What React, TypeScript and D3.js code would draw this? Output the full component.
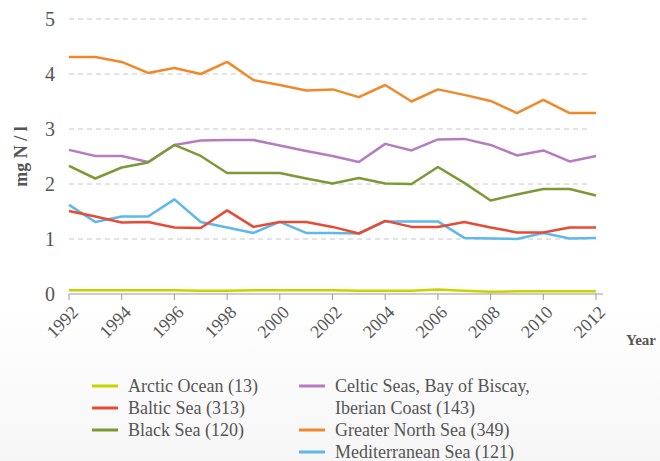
// Nitrogen concentration trends by sea region, 1992-2012
import * as d3 from "d3";
import React from "react";

const FONT = "Liberation Serif";
const textColor = "#555";

const years = d3.range(1992, 2013);
const yTicks = [0, 1, 2, 3, 4, 5];
const xTicks = [1992, 1994, 1996, 1998, 2000, 2002, 2004, 2006, 2008, 2010, 2012];

const arctic = [0.07, 0.07, 0.07, 0.07, 0.07, 0.06, 0.06, 0.07, 0.07, 0.07, 0.07, 0.06, 0.06, 0.06, 0.08, 0.06, 0.04, 0.05, 0.05, 0.05, 0.05];
const baltic = [1.51, 1.41, 1.3, 1.31, 1.21, 1.2, 1.52, 1.22, 1.31, 1.31, 1.22, 1.1, 1.33, 1.22, 1.22, 1.31, 1.21, 1.12, 1.12, 1.21, 1.21];
const black = [2.33, 2.1, 2.3, 2.39, 2.71, 2.51, 2.2, 2.2, 2.2, 2.1, 2.01, 2.11, 2.01, 2.0, 2.31, 2.02, 1.7, 1.81, 1.91, 1.91, 1.79];
const celtic = [2.62, 2.51, 2.51, 2.4, 2.71, 2.79, 2.8, 2.8, 2.7, 2.6, 2.51, 2.4, 2.73, 2.61, 2.81, 2.82, 2.71, 2.52, 2.61, 2.41, 2.51];
const northSea = [4.31, 4.31, 4.22, 4.02, 4.11, 4.0, 4.22, 3.89, 3.8, 3.7, 3.72, 3.58, 3.8, 3.5, 3.72, 3.62, 3.51, 3.29, 3.53, 3.29, 3.29];
const med = [1.62, 1.31, 1.41, 1.41, 1.72, 1.31, 1.21, 1.11, 1.31, 1.11, 1.11, 1.1, 1.32, 1.32, 1.32, 1.02, 1.01, 1.0, 1.11, 1.01, 1.02];

const series = [
  { name: "Arctic Ocean (13)", values: arctic, color: "#C8D400" },
  { name: "Baltic Sea (313)", values: baltic, color: "#E64B35" },
  { name: "Black Sea (120)", values: black, color: "#7A9A35" },
  { name: "Celtic Seas, Bay of Biscay,|Iberian Coast (143)", values: celtic, color: "#B67BC0" },
  { name: "Greater North Sea (349)", values: northSea, color: "#F0892B" },
  { name: "Mediterranean Sea (121)", values: med, color: "#5DB8EC" },
];

// drawing order so that lines overlap like the reference
const drawOrder = [0, 3, 2, 4, 5, 1];

const W = 660;
const H = 461;

export default function App() {
  const x = d3.scaleLinear().domain([1992, 2012]).range([69, 596]);
  const y = d3.scaleLinear().domain([0, 5]).range([294, 19]);
  const line = d3
    .line<number>()
    .x((_, i) => x(years[i]))
    .y((d) => y(d));

  const legendLeft = series.slice(0, 3);
  const legendRight = series.slice(3);
  const rowH = 22;

  return (
    <svg
      width={W}
      height={H}
      style={{ position: "absolute", left: 0, top: 0, background: "#fff" }}
    >
      <defs>
        <linearGradient id="bg" x1="0" y1="0" x2="0" y2="1">
          <stop offset="0" stopColor="#ffffff" />
          <stop offset="0.65" stopColor="#ffffff" />
          <stop offset="1" stopColor="#f6f6f6" />
        </linearGradient>
      </defs>
      <rect width={W} height={H} fill="url(#bg)" />

      {/* grid */}
      {yTicks.slice(1).map((t) => (
        <line
          key={t}
          x1={69}
          x2={587}
          y1={y(t)}
          y2={y(t)}
          stroke="#c8c8c8"
          strokeWidth={1}
          strokeDasharray="5,4"
        />
      ))}

      {/* y labels */}
      {yTicks.map((t) => (
        <text
          key={t}
          x={55}
          y={y(t)}
          dy="0.35em"
          textAnchor="end"
          fontSize={20}
          fill={textColor}
          style={{ fontFamily: FONT }}
        >
          {t}
        </text>
      ))}
      <text
        transform={`translate(27,${y(2.5)}) rotate(-90)`}
        textAnchor="middle"
        fontSize={18}
        fontWeight="bold"
        fill={textColor}
        style={{ fontFamily: FONT }}
      >
        mg N / l
      </text>

      {/* x axis */}
      <line x1={69} x2={603} y1={y(0)} y2={y(0)} stroke="#999" strokeWidth={1} />
      {xTicks.map((t) => (
        <g key={t} transform={`translate(${x(t)},${y(0)})`}>
          <line y1={0} y2={6} stroke="#999" />
          <text
            transform="translate(6,15) rotate(-45)"
            textAnchor="end"
            dy="0.35em"
            fontSize={18}
            fill={textColor}
            style={{ fontFamily: FONT }}
          >
            {t}
          </text>
        </g>
      ))}
      <text x={626} y={345} fontSize={15} fontWeight="bold" fill={textColor} style={{ fontFamily: FONT }}>
        Year
      </text>

      {/* lines */}
      {drawOrder.map((i) => (
        <path
          key={series[i].name}
          d={line(series[i].values) || ""}
          fill="none"
          stroke={series[i].color}
          strokeWidth={2.5}
          strokeLinejoin="round"
        />
      ))}

      {/* legend */}
      {legendLeft.map((s, i) => (
        <g key={s.name} transform={`translate(92,${386 + i * rowH})`}>
          <line x1={0} x2={26} stroke={s.color} strokeWidth={3} />
          <text x={36} dy="0.35em" fontSize={18} fill={textColor} style={{ fontFamily: FONT }}>
            {s.name}
          </text>
        </g>
      ))}
      {(() => {
        let row = 0;
        return legendRight.map((s) => {
          const parts = s.name.split("|");
          const g = (
            <g key={s.name} transform={`translate(299,${386 + row * rowH})`}>
              <line x1={0} x2={26} stroke={s.color} strokeWidth={3} />
              {parts.map((p, j) => (
                <text
                  key={j}
                  x={36}
                  y={j * rowH}
                  dy="0.35em"
                  fontSize={18}
                  fill={textColor}
                  style={{ fontFamily: FONT }}
                >
                  {p}
                </text>
              ))}
            </g>
          );
          row += parts.length;
          return g;
        });
      })()}
    </svg>
  );
}
